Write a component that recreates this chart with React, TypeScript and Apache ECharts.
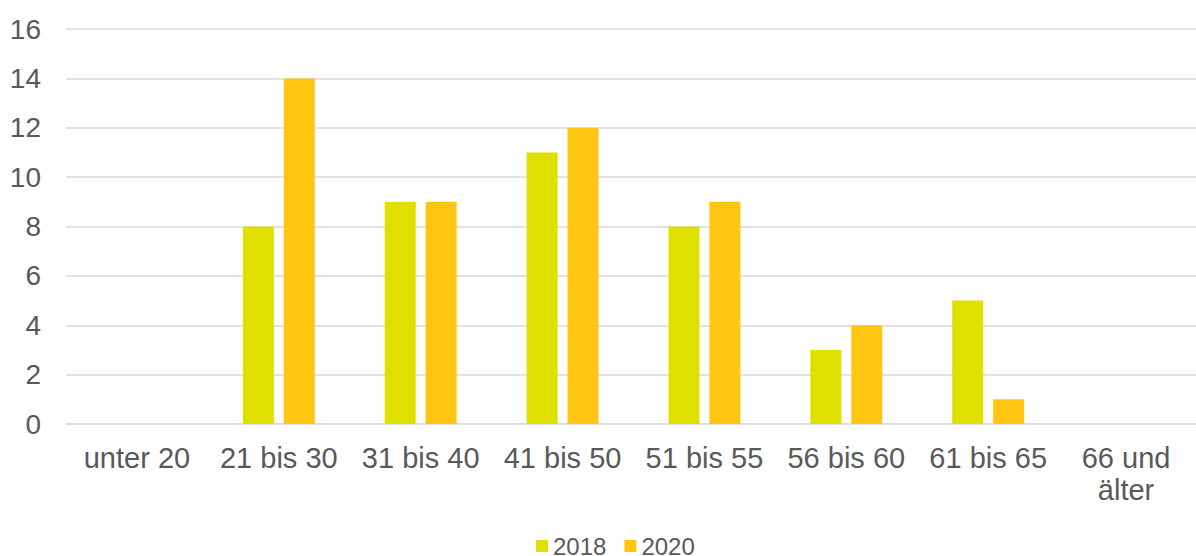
import React, { useEffect, useRef } from "react";
import * as echarts from "echarts";

const categories = ["unter 20", "21 bis 30", "31 bis 40", "41 bis 50", "51 bis 55", "56 bis 60", "61 bis 65", "66 und\nälter"];
const values2018 = [0, 8, 9, 11, 8, 3, 5, 0];
const values2020 = [0, 14, 9, 12, 9, 4, 1, 0];
const seriesNames = ["2018", "2020"];

const FONT = "'Liberation Sans', Arial, sans-serif";
const TEXT = "#595959";

export default function App() {
  const ref = useRef<HTMLDivElement>(null);
  useEffect(() => {
    if (!ref.current) return;
    const chart = echarts.init(ref.current, null, { renderer: "svg" });
    const catData = categories.map((c, i) =>
      i === categories.length - 1 ? { value: c, textStyle: { padding: [0, 8, 0, 0] } } : c
    );
    chart.setOption({
      animation: false,
      grid: { left: 66, right: 1, top: 29, bottom: 132, containLabel: false },
      legend: {
        data: seriesNames,
        left: 536,
        top: 534,
        itemWidth: 12,
        itemHeight: 12,
        itemGap: 18,
        icon: "rect",
        textStyle: { fontFamily: FONT, fontSize: 24, lineHeight: 20, color: TEXT, padding: [0, 0, 0, 0] },
        padding: 0,
      },
      xAxis: {
        type: "category",
        data: catData,
        axisTick: { show: false },
        axisLine: { show: true, lineStyle: { color: "#d9d9d9", width: 1.5 } },
        axisLabel: {
          fontFamily: FONT,
          fontSize: 29,
          color: TEXT,
          margin: 18,
          lineHeight: 32,
          interval: 0,
        },
      },
      yAxis: {
        type: "value",
        min: 0,
        max: 16,
        interval: 2,
        axisLine: { show: false },
        axisTick: { show: false },
        splitLine: { lineStyle: { color: "#d9d9d9", width: 1.5 } },
        axisLabel: { fontFamily: FONT, fontSize: 28, color: TEXT, margin: 25 },
      },
      series: [
        {
          name: seriesNames[0],
          type: "bar",
          data: values2018,
          barWidth: 31,
          barGap: "32%",
          itemStyle: { color: "#E0E000" },
        },
        {
          name: seriesNames[1],
          type: "bar",
          data: values2020,
          barWidth: 31,
          barGap: "32%",
          itemStyle: { color: "#FFC511" },
        },
      ],
    });
    return () => chart.dispose();
  }, []);
  return (
    <div
      style={{ position: "fixed", left: 0, top: 0, width: 1196, height: 556, overflow: "hidden", background: "#fff" }}
    >
      <div ref={ref} style={{ width: 1202, height: 556 }} />
    </div>
  );
}
